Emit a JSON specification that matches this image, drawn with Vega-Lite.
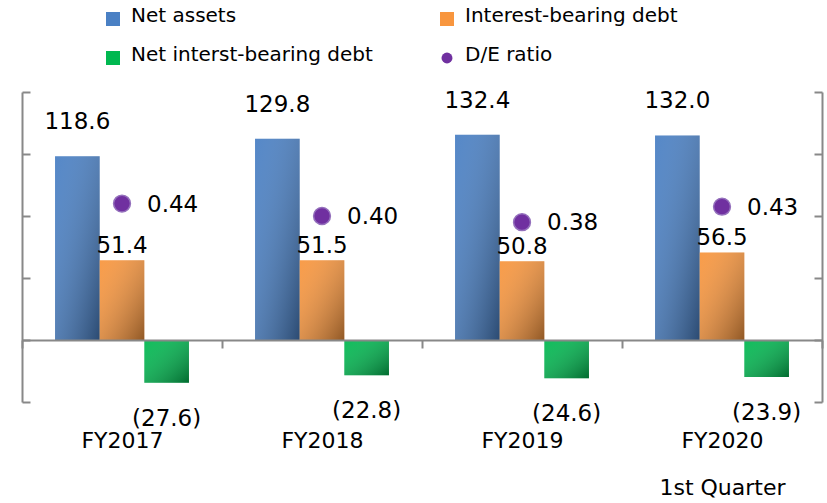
{
  "$schema": "https://vega.github.io/schema/vega-lite/v6.json",
  "width": 800,
  "height": 310,
  "autosize": {"type": "none"},
  "padding": {"left": 22, "top": 92, "right": 5, "bottom": 101},
  "background": "white",
  "config": {"view": {"stroke": null}, "font": "DejaVu Sans"},
  "data": {
    "values": [
      {"fy": "FY2017", "series": "Net assets", "value": 118.6},
      {"fy": "FY2017", "series": "Interest-bearing debt", "value": 51.4},
      {"fy": "FY2017", "series": "Net interst-bearing debt", "value": -27.6},
      {"fy": "FY2017", "series": "D/E ratio", "value": 0.44},
      {"fy": "FY2018", "series": "Net assets", "value": 129.8},
      {"fy": "FY2018", "series": "Interest-bearing debt", "value": 51.5},
      {"fy": "FY2018", "series": "Net interst-bearing debt", "value": -22.8},
      {"fy": "FY2018", "series": "D/E ratio", "value": 0.40},
      {"fy": "FY2019", "series": "Net assets", "value": 132.4},
      {"fy": "FY2019", "series": "Interest-bearing debt", "value": 50.8},
      {"fy": "FY2019", "series": "Net interst-bearing debt", "value": -24.6},
      {"fy": "FY2019", "series": "D/E ratio", "value": 0.38},
      {"fy": "FY2020", "series": "Net assets", "value": 132.0},
      {"fy": "FY2020", "series": "Interest-bearing debt", "value": 56.5},
      {"fy": "FY2020", "series": "Net interst-bearing debt", "value": -23.9},
      {"fy": "FY2020", "series": "D/E ratio", "value": 0.43}
    ]
  },
  "layer": [
    {
      "transform": [{"filter": "datum.series !== 'D/E ratio'"}],
      "encoding": {
        "x": {
          "field": "fy", "type": "nominal", "sort": null,
          "scale": {"paddingInner": 0, "paddingOuter": 0},
          "axis": {
            "title": null, "orient": "bottom", "offset": -62, "zindex": 1,
            "domainColor": "#888888", "domainWidth": 2,
            "tickColor": "#888888", "tickWidth": 2, "tickSize": 8, "tickBand": "extent",
            "labelAngle": 0, "labelFont": "DejaVu Sans", "labelFontSize": 22, "labelColor": "#000000",
            "labelPadding": 82, "labelLineHeight": 47, "labelBaseline": "top",
            "labelExpr": "datum.value === 'FY2020' ? ['FY2020', '1st Quarter'] : datum.value"
          }
        },
        "xOffset": {
          "field": "series", "type": "nominal", "sort": null,
          "scale": {"domain": ["Net assets", "Interest-bearing debt", "Net interst-bearing debt"], "paddingInner": 0, "paddingOuter": 0.74}
        },
        "y": {
          "field": "value", "type": "quantitative",
          "scale": {"domain": [-40, 160], "nice": false, "zero": false},
          "axis": {
            "title": null, "orient": "left", "grid": false, "labels": false,
            "ticks": true, "tickSize": -8, "tickColor": "#888888", "tickWidth": 2,
            "domainColor": "#888888", "domainWidth": 2,
            "values": [-40, 0, 40, 80, 120, 160]
          }
        }
      },
      "layer": [
        {
          "mark": {"type": "bar"},
          "encoding": {
            "color": {
              "field": "series", "type": "nominal",
              "scale": {
                "domain": ["Net assets", "Net interst-bearing debt", "Interest-bearing debt", "D/E ratio"],
                "range": ["#4A80C4", "#00B850", "#F8963E", "#7030A0"]
              },
              "legend": {
                "title": null, "orient": "none", "legendX": 81, "legendY": -83,
                "columns": 2, "columnPadding": 64, "rowPadding": 19, "padding": 0,
                "labelFont": "DejaVu Sans", "labelFontSize": 20, "labelColor": "#000000",
                "labelOffset": 8, "labelLimit": 400,
                "symbolType": "square", "symbolSize": 196, "symbolStrokeWidth": 0,
                "encode": {
                  "symbols": {"update": {
                    "shape": {"signal": "datum.value === 'D/E ratio' ? 'circle' : 'square'"},
                    "size": {"signal": "datum.value === 'D/E ratio' ? 120 : 196"}
                  }},
                  "labels": {"update": {"dy": {"value": -3}}}
                }
              }
            }
          }
        },
        {
          "mark": {
            "type": "bar",
            "fill": {
              "gradient": "linear", "x1": 0, "y1": 0, "x2": 1, "y2": 1,
              "stops": [
                {"offset": 0, "color": "rgba(255,255,255,0.06)"},
                {"offset": 1, "color": "rgba(0,0,0,0.42)"}
              ]
            }
          }
        },
        {
          "transform": [{"filter": "datum.series === 'Net assets'"}],
          "mark": {"type": "text", "baseline": "alphabetic", "dy": -27, "fontSize": 23, "font": "DejaVu Sans", "color": "#000000"},
          "encoding": {"text": {"field": "value", "type": "quantitative", "format": "(.1f"}}
        },
        {
          "transform": [{"filter": "datum.series === 'Interest-bearing debt'"}],
          "mark": {"type": "text", "baseline": "alphabetic", "dy": -7, "fontSize": 23, "font": "DejaVu Sans", "color": "#000000"},
          "encoding": {"text": {"field": "value", "type": "quantitative", "format": "(.1f"}}
        },
        {
          "transform": [{"filter": "datum.series === 'Net interst-bearing debt'"}],
          "mark": {"type": "text", "baseline": "alphabetic", "dy": 43, "fontSize": 23, "font": "DejaVu Sans", "color": "#000000"},
          "encoding": {"text": {"field": "value", "type": "quantitative", "format": "(.1f"}}
        }
      ]
    },
    {
      "transform": [{"filter": "datum.series === 'D/E ratio'"}],
      "encoding": {
        "x": {"field": "fy", "type": "nominal", "sort": null},
        "y": {
          "field": "value", "type": "quantitative",
          "scale": {"domain": [-0.2, 0.8], "nice": false, "zero": false},
          "axis": {
            "title": null, "orient": "right", "grid": false, "labels": false,
            "ticks": true, "tickSize": -8, "tickColor": "#888888", "tickWidth": 2,
            "domainColor": "#888888", "domainWidth": 2,
            "values": [-0.2, 0, 0.2, 0.4, 0.6, 0.8]
          }
        }
      },
      "layer": [
        {
          "mark": {"type": "circle", "size": 283, "fill": "#7030A0", "stroke": "#9470BC", "strokeWidth": 1.5, "opacity": 1}
        },
        {
          "mark": {"type": "text", "align": "left", "baseline": "middle", "dx": 25, "dy": 1, "fontSize": 23, "font": "DejaVu Sans", "color": "#000000"},
          "encoding": {"text": {"field": "value", "type": "quantitative", "format": ".2f"}}
        }
      ]
    }
  ],
  "resolve": {"scale": {"y": "independent"}}
}
